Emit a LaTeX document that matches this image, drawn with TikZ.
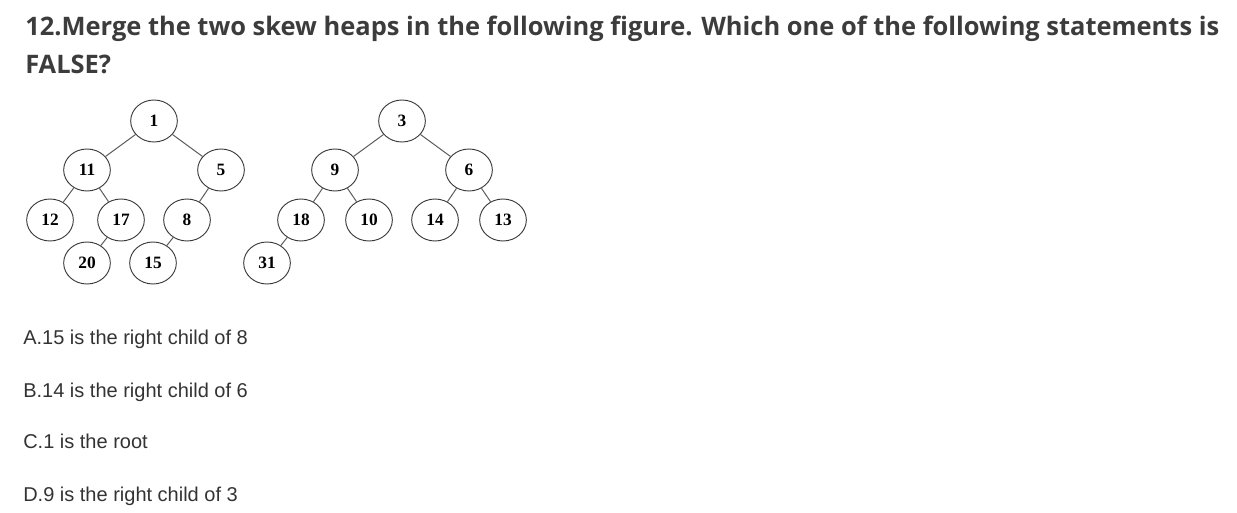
\documentclass[tikz,border=0pt]{standalone}
\usepackage{fontspec}
\setmainfont{Liberation Sans}
\newfontfamily\heapfont{Liberation Serif}
\newfontfamily\titlefont{Open Sans}
\usepackage{xcolor}
\definecolor{quizTitle}{HTML}{3C3C3C}
\definecolor{quizChoice}{HTML}{333333}
\definecolor{heapBorder}{HTML}{3A3A3A}
\definecolor{heapEdge}{HTML}{5C5C5C}
\usepackage{tikz}
\usetikzlibrary{shapes.geometric,positioning}
\tikzset{
    heapkey/.style={
        draw=heapBorder,
        fill=white,
        ellipse,
        inner sep=0pt,
        minimum width=35pt,
        minimum height=31.5pt,
        line width=0.7pt,
        font=\heapfont\bfseries\fontsize{13}{14}\selectfont
    },
    heapedge/.style={
        line width=0.75pt,
        color=heapEdge
    },
    question/.style={
        anchor=base west,
        inner sep=0pt,
        text=quizTitle,
        font=\titlefont\bfseries\fontsize{19.1}{27}\selectfont
    },
    choice/.style={
        anchor=base west,
        inner sep=0pt,
        text=quizChoice,
        font=\fontsize{15}{18}\selectfont
    },
    lvlone/.style={node distance=36.75pt and 50.25pt},
    lvltwo/.style={node distance=37.5pt and 25.5pt},
    lvlthree/.style={node distance=32.25pt and 25.5pt}
}

\begin{document}
\begin{tikzpicture}[x=0.75pt, y=-0.75pt, on grid]
    \useasboundingbox (0,0) rectangle (1237,513);

    \node[question] (q1) at (25,36) {12.Merge the two skew heaps in the following figure. Which one of the following statements is};
    \node[question] (q2) at (25,74) {FALSE?};

    \node[heapkey] (one) at (154,121) {1};
    \node[heapkey, lvlone, below left=of one] (eleven) {11};
    \node[heapkey, lvlone, below right=of one] (five) {5};
    \node[heapkey, lvltwo, below left=of eleven, xshift=-2.25pt] (twelve) {12};
    \node[heapkey, lvltwo, below right=of eleven] (seventeen) {17};
    \node[heapkey, lvltwo, below left=of five] (eight) {8};
    \node[heapkey, lvlthree, below left=of seventeen] (twenty) {20};
    \node[heapkey, lvlthree, below left=of eight] (fifteen) {15};

    \node[heapkey, right=186pt of one] (three) {3};
    \node[heapkey, lvlone, below left=of three] (nine) {9};
    \node[heapkey, lvlone, below right=of three] (six) {6};
    \node[heapkey, lvltwo, below left=of nine] (eighteen) {18};
    \node[heapkey, lvltwo, below right=of nine] (ten) {10};
    \node[heapkey, lvltwo, below left=of six] (fourteen) {14};
    \node[heapkey, lvltwo, below right=of six] (thirteen) {13};
    \node[heapkey, lvlthree, below left=of eighteen] (thirtyone) {31};

    \draw[heapedge] (one) -- (eleven);
    \draw[heapedge] (one) -- (five);
    \draw[heapedge] (eleven) -- (twelve);
    \draw[heapedge] (eleven) -- (seventeen);
    \draw[heapedge] (seventeen) -- (twenty);
    \draw[heapedge] (five) -- (eight);
    \draw[heapedge] (eight) -- (fifteen);
    \draw[heapedge] (three) -- (nine);
    \draw[heapedge] (three) -- (six);
    \draw[heapedge] (nine) -- (eighteen);
    \draw[heapedge] (nine) -- (ten);
    \draw[heapedge] (six) -- (fourteen);
    \draw[heapedge] (six) -- (thirteen);
    \draw[heapedge] (eighteen) -- (thirtyone);

    \node[choice] (optA) at (23,344) {A.15 is the right child of 8};
    \node[choice] (optB) at (23,397) {B.14 is the right child of 6};
    \node[choice] (optC) at (23,448) {C.1 is the root};
    \node[choice] (optD) at (23,501) {D.9 is the right child of 3};
\end{tikzpicture}
\end{document}
